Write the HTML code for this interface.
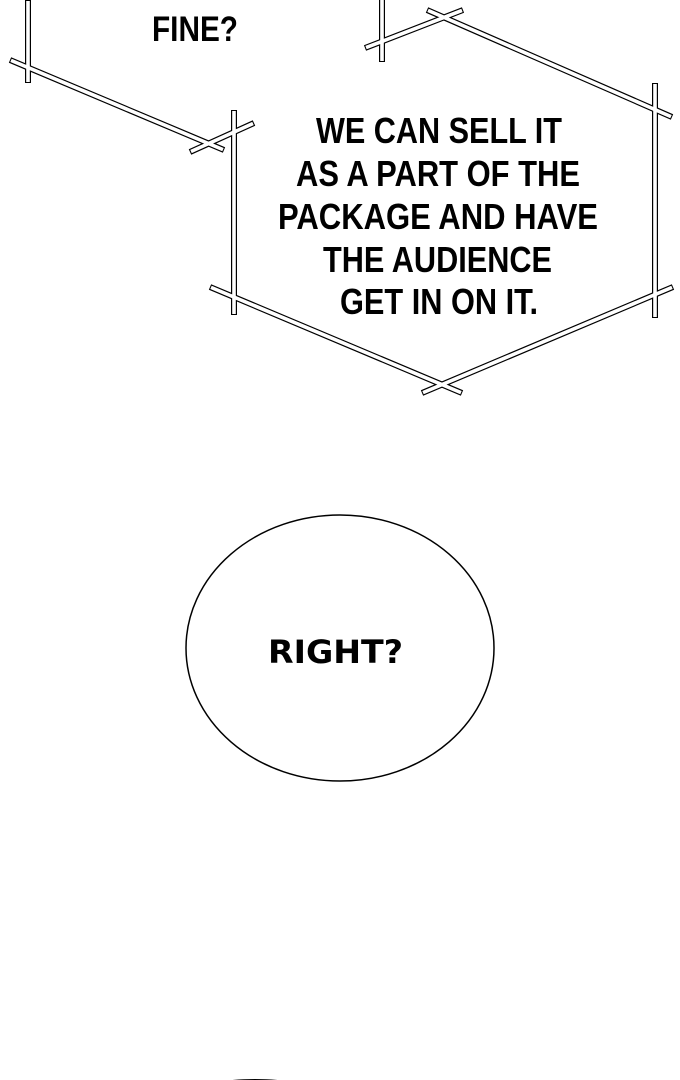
<!DOCTYPE html>
<html><head><style>
html,body{margin:0;padding:0;background:#fff;}
body{width:680px;height:1080px;position:relative;overflow:hidden;}
svg{position:absolute;left:0;top:0;}
.t{font-family:"Liberation Sans",sans-serif;font-weight:bold;fill:#000;}
</style></head><body>
<svg width="680" height="1080" viewBox="0 0 680 1080">
<g stroke="#000" stroke-width="6" stroke-linecap="butt" fill="none">
<line x1="28" y1="0" x2="28" y2="83"/>
<line x1="10" y1="60" x2="224" y2="150"/>
<line x1="190" y1="152" x2="254" y2="123"/>
<line x1="382" y1="0" x2="382" y2="62"/>
<line x1="365" y1="48" x2="463" y2="10"/>
<line x1="427" y1="10" x2="672" y2="117"/>
<line x1="655" y1="83" x2="655" y2="318"/>
<line x1="234" y1="110" x2="234" y2="315"/>
<line x1="210" y1="287" x2="462" y2="393"/>
<line x1="422" y1="393" x2="673" y2="287"/>
</g>
<g stroke="#fff" stroke-width="3.6" stroke-linecap="butt" fill="none">
<line x1="28" y1="1" x2="28" y2="82"/>
<line x1="11" y1="60.4" x2="223" y2="149.6"/>
<line x1="191" y1="151.5" x2="253" y2="123.5"/>
<line x1="382" y1="0" x2="382" y2="61"/>
<line x1="366" y1="47.6" x2="462" y2="10.4"/>
<line x1="428" y1="10.4" x2="671" y2="116.6"/>
<line x1="655" y1="84" x2="655" y2="317"/>
<line x1="234" y1="111" x2="234" y2="314"/>
<line x1="211" y1="287.4" x2="461" y2="392.6"/>
<line x1="423" y1="392.6" x2="672" y2="287.4"/>
</g>
<text class="t" x="152" y="41" font-size="35" textLength="86" lengthAdjust="spacingAndGlyphs">FINE?</text>
<g class="t" font-size="36">
<text x="316" y="143" textLength="246" lengthAdjust="spacingAndGlyphs">WE CAN SELL IT</text>
<text x="296" y="186" textLength="284" lengthAdjust="spacingAndGlyphs">AS A PART OF THE</text>
<text x="278" y="229" textLength="320" lengthAdjust="spacingAndGlyphs">PACKAGE AND HAVE</text>
<text x="323" y="272" textLength="229" lengthAdjust="spacingAndGlyphs">THE AUDIENCE</text>
<text x="340" y="314" textLength="198" lengthAdjust="spacingAndGlyphs">GET IN ON IT.</text>
</g>
<ellipse cx="340" cy="648" rx="154" ry="133" fill="#fff" stroke="#000" stroke-width="1.5"/>
<text x="268" y="663" font-family="'DejaVu Sans',sans-serif" font-weight="bold" font-size="32" textLength="135" lengthAdjust="spacingAndGlyphs" fill="#000">RIGHT?</text>
<ellipse cx="255" cy="1082" rx="30" ry="3" fill="#000"/>
</svg>
</body></html>
